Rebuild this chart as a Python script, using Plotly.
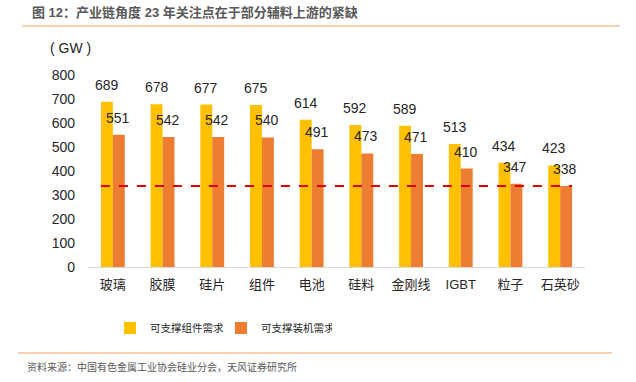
import plotly.graph_objects as go

categories = ["玻璃", "胶膜", "硅片", "组件", "电池", "硅料", "金刚线", "IGBT", "粒子", "石英砂"]
module_demand = [689, 678, 677, 675, 614, 592, 589, 513, 434, 423]
install_demand = [551, 542, 542, 540, 491, 473, 471, 410, 347, 338]
threshold = 338
series_names = ["可支撑组件需求", "可支撑装机需求"]
y_ticks = [0, 100, 200, 300, 400, 500, 600, 700, 800]

FONT = "Arial, 'Liberation Sans', 'Noto Sans CJK SC', sans-serif"
YELLOW = "#FFC000"
ORANGE = "#ED7D31"

W, H = 636, 382
ML, MR, MT, MB = 88, 51, 75, 115
plot_w = W - ML - MR
plot_h = H - MT - MB


def px_to_paper(xp, yp):
    return (xp - ML) / plot_w, (H - MB - yp) / plot_h


fig = go.Figure()
fig.add_trace(go.Bar(x=categories, y=module_demand, name=series_names[0],
                     marker=dict(color=YELLOW, line=dict(width=0))))
fig.add_trace(go.Bar(x=categories, y=install_demand, name=series_names[1],
                     marker=dict(color=ORANGE, line=dict(width=0))))

annotations = []
for c, v in zip(categories, module_demand):
    annotations.append(dict(x=c, y=v, xref="x", yref="y", text=str(v), showarrow=False,
                            xshift=-6, yshift=17, font=dict(size=14, color="#262626", family=FONT)))
for c, v in zip(categories, install_demand):
    annotations.append(dict(x=c, y=v, xref="x", yref="y", text=str(v), showarrow=False,
                            xshift=5, yshift=17, font=dict(size=14, color="#262626", family=FONT)))

gx, gy = px_to_paper(70, 48)
annotations.append(dict(x=gx, y=gy, xref="paper", yref="paper", text="( GW )", showarrow=False,
                        xanchor="center", yanchor="middle",
                        font=dict(size=14, color="#262626", family=FONT)))
tx, ty = px_to_paper(30, 13)
annotations.append(dict(x=tx, y=ty, xref="paper", yref="paper",
                        text="<b>图 12：产业链角度 23 年关注点在于部分辅料上游的紧缺</b>",
                        showarrow=False, xanchor="left", yanchor="middle",
                        font=dict(size=13, color="#595959", family=FONT)))
sx, sy = px_to_paper(25, 367)
annotations.append(dict(x=sx, y=sy, xref="paper", yref="paper",
                        text="资料来源：中国有色金属工业协会硅业分会，天风证券研究所",
                        showarrow=False, xanchor="left", yanchor="middle",
                        font=dict(size=10, color="#595959", family=FONT)))

shapes = [
    dict(type="line", xref="x", yref="y", x0=-0.24, x1=len(categories) - 1 + 0.24,
         y0=threshold, y1=threshold, line=dict(color="#E00000", width=2, dash="dash")),
]
lx0, ly0 = px_to_paper(22, 26)
lx1, _ = px_to_paper(620, 26)
shapes.append(dict(type="line", xref="paper", yref="paper", x0=lx0, x1=lx1, y0=ly0, y1=ly0,
                   line=dict(color="#F4A261", width=1.2)))
bx0, by0 = px_to_paper(18, 353)
bx1, _ = px_to_paper(612, 353)
shapes.append(dict(type="line", xref="paper", yref="paper", x0=bx0, x1=bx1, y0=by0, y1=by0,
                   line=dict(color="#F4A261", width=1.2)))

legx, legy = px_to_paper(110, 328)

fig.update_layout(
    width=W, height=H,
    margin=dict(l=ML, r=MR, t=MT, b=MB, autoexpand=False),
    paper_bgcolor="white", plot_bgcolor="white",
    barmode="group", bargap=0.52, bargroupgap=0,
    font=dict(family=FONT, color="#262626"),
    xaxis=dict(showline=True, linecolor="#D9D9D9", linewidth=1, ticks="",
               tickfont=dict(size=13, color="#262626"), showgrid=False,
               ticklabelstandoff=5),
    yaxis=dict(range=[0, 800], tickvals=y_ticks, showgrid=False, zeroline=False,
               showline=False, tickfont=dict(size=14, color="#262626"), ticklabelstandoff=12),
    showlegend=True,
    legend=dict(orientation="h", x=legx, xanchor="left", y=legy, yanchor="middle",
                font=dict(size=10.5, color="#262626"), itemwidth=30,
                entrywidth=66, entrywidthmode="pixels"),
    annotations=annotations,
    shapes=shapes,
)

fig.write_html("out.html", config={"displayModeBar": False},
               post_script="document.body.style.margin='0px';")
